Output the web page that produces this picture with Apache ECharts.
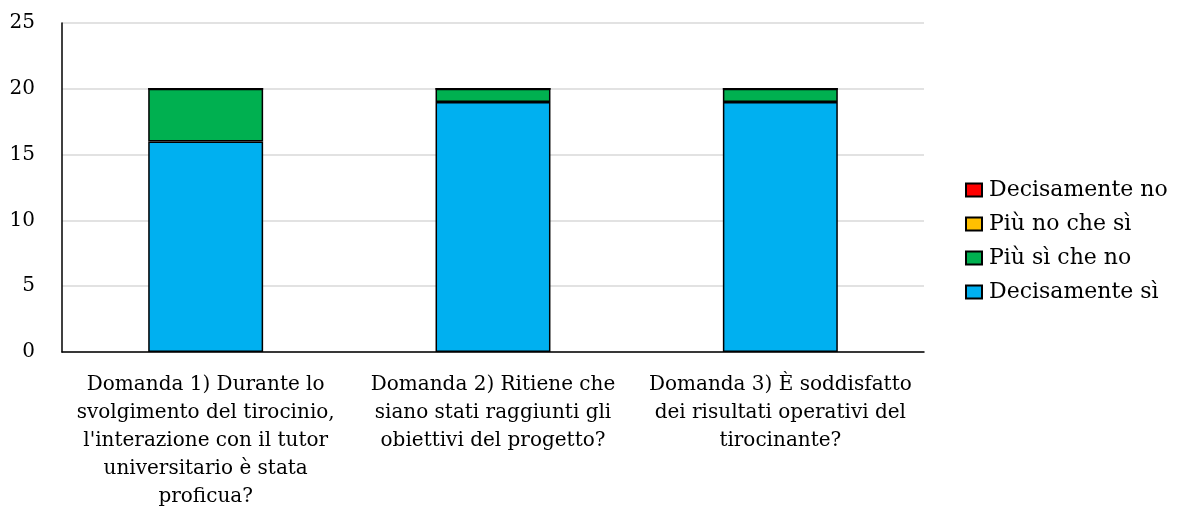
<!DOCTYPE html>
<html>
<head>
<meta charset="utf-8">
<script src="https://cdn.jsdelivr.net/npm/echarts@6/dist/echarts.min.js"></script>
<style>
  html, body { margin: 0; padding: 0; background: #fff; }
  #chart { width: 1177px; height: 512px; }
</style>
</head>
<body>
<div id="chart"></div>
<script>
// domande (asse x)
const categories = [
  "Domanda 1) Durante lo\nsvolgimento del tirocinio,\nl'interazione con il tutor\nuniversitario è stata\nproficua?",
  "Domanda 2) Ritiene che\nsiano stati raggiunti gli\nobiettivi del progetto?",
  "Domanda 3) È soddisfatto\ndei risultati operativi del\ntirocinante?"
];
// risposte per domanda
const decisamenteSi = [16, 19, 19];
const piuSiCheNo = [4, 1, 1];
const piuNoCheSi = [0, 0, 0];
const decisamenteNo = [0, 0, 0];
const yTicks = [0, 5, 10, 15, 20, 25];

const font = "'DejaVu Serif', 'Liberation Serif', serif";

function barSeries(name, data, color) {
  return {
    name: name,
    type: "bar",
    stack: "tot",
    data: data,
    barWidth: "40%",
    itemStyle: { color: color, borderColor: "#000", borderWidth: 1.5 }
  };
}

var myChart = echarts.init(document.getElementById("chart"));
var option = {
  animation: false,
  textStyle: { fontFamily: font },
  grid: { left: 62, right: 253, top: 23, bottom: 160 },
  legend: {
    orient: "vertical",
    left: 965,
    top: 179,
    padding: 0,
    icon: "rect",
    itemWidth: 16,
    itemHeight: 13,
    itemGap: 12,
    data: ["Decisamente no", "Più no che sì", "Più sì che no", "Decisamente sì"],
    textStyle: { fontFamily: font, fontSize: 22, color: "#000", lineHeight: 22, padding: [0, 0, 0, 2] }
  },
  xAxis: {
    type: "category",
    data: categories,
    axisLine: { lineStyle: { color: "#000", width: 1.5 } },
    axisTick: { show: false },
    axisLabel: {
      interval: 0,
      margin: 19,
      fontFamily: font,
      fontSize: 20,
      lineHeight: 28,
      color: "#000",
      align: "center"
    }
  },
  yAxis: {
    type: "value",
    min: yTicks[0],
    max: yTicks[yTicks.length - 1],
    interval: 5,
    axisLine: { show: true, lineStyle: { color: "#000", width: 1.5 } },
    axisTick: { show: false },
    splitLine: { lineStyle: { color: "#d9d9d9", width: 1.5 } },
    axisLabel: { margin: 27, fontFamily: font, fontSize: 20, color: "#000" }
  },
  series: [
    barSeries("Decisamente sì", decisamenteSi, "#00B0F0"),
    barSeries("Più sì che no", piuSiCheNo, "#00B050"),
    barSeries("Più no che sì", piuNoCheSi, "#FFC000"),
    barSeries("Decisamente no", decisamenteNo, "#FF0000")
  ]
};
myChart.setOption(option);
</script>
</body>
</html>
